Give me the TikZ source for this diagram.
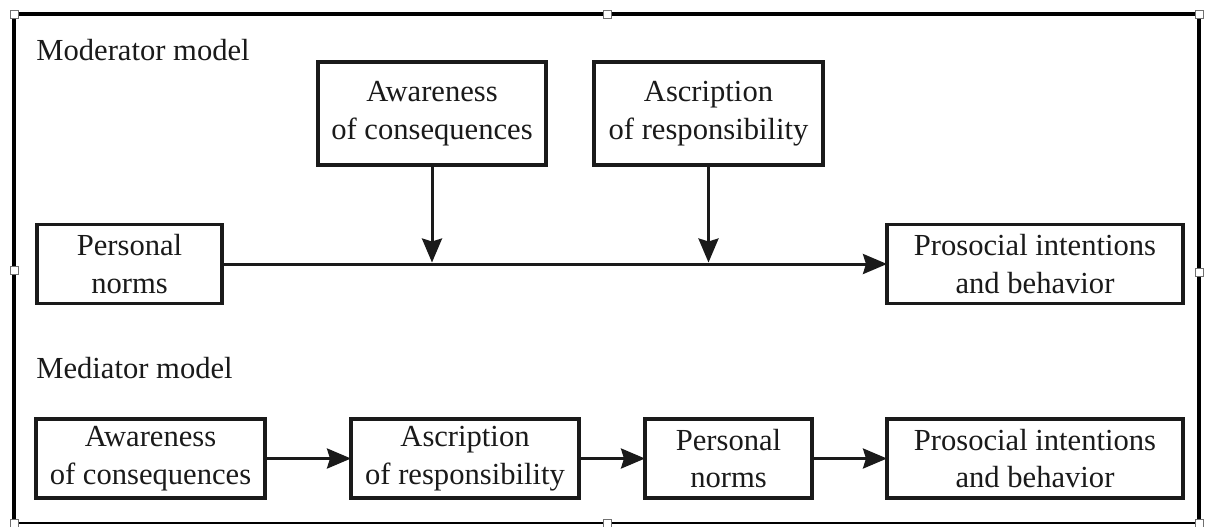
\documentclass[tikz,border=0pt]{standalone}
\usepackage{fontspec}
\setmainfont{Liberation Serif}
\usetikzlibrary{arrows.meta}
\definecolor{ink}{HTML}{1A1A1A}
\definecolor{handlegray}{HTML}{707070}
\begin{document}
\begin{tikzpicture}[x=0.5pt,y=-0.5pt,
  every node/.style={text=ink},
  boxnode/.style={draw=ink,line width=1.9pt,inner sep=0pt,outer sep=0pt,align=center,
    font=\fontsize{15.3}{18.7}\selectfont},
  title/.style={anchor=base west,inner sep=0pt,font=\fontsize{15.3}{18.7}\selectfont},
  arr/.style={draw=ink,line width=1.5pt,-{Stealth[length=12pt,width=10pt,inset=1.5pt]}},
  frameline/.style={draw=black,line width=2pt},
  handle/.style={draw=handlegray,fill=white,line width=0.5pt,minimum size=4pt,inner sep=0pt}]
\useasboundingbox (0,0) rectangle (1206,526);
\fill[white] (0,0) rectangle (1206,526);
% frame
\draw[frameline] (14,523) -- (14,14) -- (1199,14) -- (1199,523);
\draw[draw=black,line width=0.8pt] (14,523) -- (1199,523);
\foreach \p [count=\i] in {(14,14),(607,14),(1199,14),(14,270),(1199,272),(14,523),(607,523),(1199,523)}
  \node[handle] (h\i) at \p {};
% titles
\node[title] (t1) at (36,60) {Moderator model};
\node[title] (t2) at (36,378) {Mediator model};
% moderator model
\node[boxnode,minimum width=114pt,minimum height=51.5pt] (aw1) at (432,113.5) {Awareness\\of consequences};
\node[boxnode,minimum width=114.5pt,minimum height=51.5pt] (as1) at (708.5,113.5) {Ascription\\of responsibility};
\node[boxnode,minimum width=92.5pt,minimum height=39.5pt] (pn1) at (129.5,264) {Personal\\norms};
\node[boxnode,minimum width=148pt,minimum height=39.5pt] (pr1) at (1035,264) {Prosocial intentions\\and behavior};
\draw[arr] (pn1.east) -- (pr1.west);
\draw[arr,shorten >=0.75pt] (aw1.south) -- (aw1.south |- pn1.east);
\draw[arr,shorten >=0.75pt] (as1.south) -- (as1.south |- pn1.east);
% mediator model
\node[boxnode,minimum width=114.5pt,minimum height=39.5pt] (aw2) at (150.5,458.5) {Awareness\\of consequences};
\node[boxnode,minimum width=114pt,minimum height=39.5pt] (as2) at (465,458.5) {Ascription\\of responsibility};
\node[boxnode,minimum width=83.5pt,minimum height=39.5pt] (pn2) at (728.5,458.5) {Personal\\norms};
\node[boxnode,minimum width=148pt,minimum height=39.5pt] (pr2) at (1035,458.5) {Prosocial intentions\\and behavior};
\draw[arr] (aw2) -- (as2);
\draw[arr] (as2) -- (pn2);
\draw[arr] (pn2) -- (pr2);
\end{tikzpicture}
\end{document}
